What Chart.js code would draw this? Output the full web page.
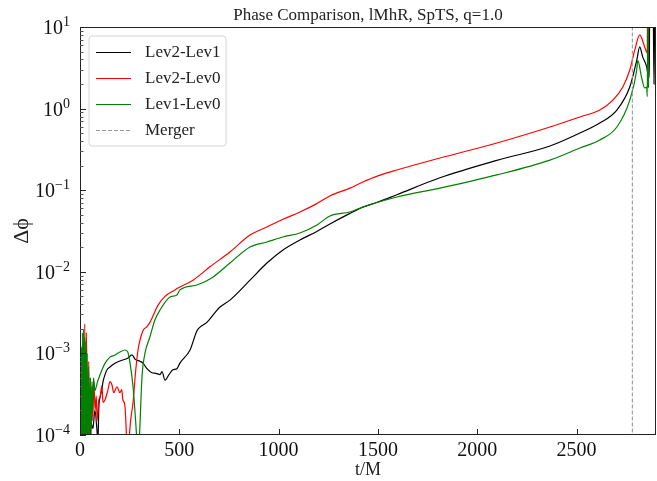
<!DOCTYPE html>
<html>
<head>
<meta charset="utf-8">
<script src="https://cdn.jsdelivr.net/npm/chart.js@4.4.0/dist/chart.umd.min.js"></script>
<style>
  html, body { margin: 0; padding: 0; background: #fff; }
</style>
</head>
<body>
<canvas id="phaseChart" width="657" height="481"></canvas>
<script>
// Lev2-Lev1 (black)
const tBlack = [0, 4, 8, 12, 16, 20, 26, 32, 40, 48, 56, 65, 75, 86, 90, 95, 101, 110, 116, 126, 136, 151, 166, 186, 216, 242, 262, 277, 302, 317, 337, 362, 382, 403, 413, 428, 448, 468, 488, 503, 554, 589, 604, 639, 690, 705, 755, 856, 941, 1022, 1107, 1190, 1258, 1359, 1424, 1500, 1595, 1812, 2099, 2366, 2517, 2617, 2703, 2768, 2803, 2818, 2833, 2853, 2860, 2866, 2868, 2886, 2890, 2893];
const dBlack = [1.2e-3, 5e-5, 6e-4, 5e-5, 3e-4, 5e-5, 2e-4, 5e-5, 1.5e-4, 6e-5, 1.4e-4, 1.2e-4, 2e-4, 1.1e-4, 8e-5, 2.2e-4, 2.9e-4, 3.6e-4, 4.5e-4, 5.5e-4, 6.3e-4, 6.8e-4, 7.3e-4, 7.8e-4, 8.3e-4, 8.8e-4, 9.6e-4, 8.5e-4, 8e-4, 7.6e-4, 6.5e-4, 5.8e-4, 5.7e-4, 5.5e-4, 6e-4, 4.7e-4, 5.5e-4, 6.3e-4, 6.5e-4, 7.6e-4, 1.1e-3, 1.9e-3, 2.1e-3, 2.4e-3, 3.4e-3, 3.7e-3, 4.5e-3, 7.9e-3, 0.0128, 0.0185, 0.0245, 0.031, 0.0385, 0.052, 0.062, 0.0716, 0.088, 0.142, 0.232, 0.348, 0.502, 0.667, 0.96, 1.84, 3.9, 5.7, 4.3, 3.24, 2.6, 2.4, 15, 15, 2.0, 15];

// Lev2-Lev0 (red)
const tRed = [0, 4, 8, 12, 16, 20, 24, 28, 32, 36, 40, 44, 48, 52, 56, 60, 64, 70, 76, 82, 86, 95, 101, 110, 116, 126, 140, 151, 161, 170, 186, 201, 210, 216, 226, 233, 237, 244, 250, 267, 280, 292, 317, 335, 352, 393, 428, 478, 503, 569, 654, 755, 856, 941, 1022, 1107, 1190, 1258, 1359, 1424, 1500, 1595, 1812, 2099, 2366, 2517, 2617, 2683, 2733, 2768, 2793, 2818, 2843, 2853, 2856, 2858, 2861, 2864];
const dRed = [1.9e-3, 6e-5, 1e-3, 5e-5, 1.5e-3, 8e-5, 2.3e-3, 6e-5, 1.8e-3, 4e-4, 5e-5, 8e-4, 6e-5, 5e-4, 1.2e-4, 3.9e-4, 1.5e-4, 4.5e-4, 2e-4, 3e-4, 1.5e-4, 2.7e-4, 2.9e-4, 4e-4, 2.5e-4, 2.7e-4, 3.5e-4, 4.5e-4, 4.1e-4, 3.3e-4, 3.9e-4, 3.3e-4, 3.6e-4, 2.7e-4, 2.3e-4, 1.1e-4, 6e-5, 5e-5, 1.1e-4, 2.5e-4, 6e-4, 1.1e-3, 1.9e-3, 2.1e-3, 2.4e-3, 3.9e-3, 5e-3, 6e-3, 6.5e-3, 7.9e-3, 0.0115, 0.0175, 0.0282, 0.0354, 0.044, 0.054, 0.068, 0.085, 0.106, 0.126, 0.15, 0.177, 0.248, 0.379, 0.595, 0.79, 0.96, 1.27, 1.84, 2.97, 5.2, 8.0, 5.7, 4.9, 4.8, 30, 3.5, 30];

// Lev1-Lev0 (green)
const tGreen = [0, 3, 6, 9, 12, 15, 18, 21, 24, 27, 30, 33, 36, 40, 44, 48, 52, 56, 60, 64, 68, 75, 86, 95, 111, 125, 151, 175, 201, 226, 240, 252, 267, 280, 287, 292, 298, 312, 327, 352, 377, 403, 453, 488, 503, 589, 669, 755, 856, 941, 1022, 1107, 1193, 1258, 1359, 1424, 1595, 1812, 2099, 2366, 2517, 2617, 2703, 2768, 2803, 2808, 2828, 2843, 2853, 2856, 2859, 2862];
const dGreen = [1.5e-3, 5e-5, 1.2e-3, 5e-5, 1.8e-3, 6e-5, 2e-3, 5e-5, 1.6e-3, 7e-5, 1.4e-3, 6e-5, 1e-3, 8e-5, 7e-4, 7e-5, 5e-4, 1e-4, 4.5e-4, 2e-4, 5e-4, 3.5e-4, 4.3e-4, 5e-4, 6.3e-4, 7.5e-4, 9e-4, 9.5e-4, 1.04e-3, 1.1e-3, 1.05e-3, 7.6e-4, 3.9e-4, 1.5e-4, 8e-5, 5e-5, 8e-5, 5.1e-4, 1e-3, 1.59e-3, 2.57e-3, 3.4e-3, 4.9e-3, 5.2e-3, 6e-3, 6.9e-3, 8.6e-3, 0.0128, 0.0201, 0.0232, 0.0267, 0.0299, 0.0375, 0.0483, 0.054, 0.0622, 0.0826, 0.106, 0.154, 0.234, 0.329, 0.412, 0.595, 1.27, 2.97, 3.9, 2.37, 1.79, 1.84, 1.4, 20, 1.8];

const mergerT = 2781;
const xTickValues = [0, 500, 1000, 1500, 2000, 2500];
const yDecades = [-4, -3, -2, -1, 0, 1];
const seriesLabels = ['Lev2-Lev1', 'Lev2-Lev0', 'Lev1-Lev0', 'Merger'];

const SERIF = '"Liberation Serif", "DejaVu Serif", serif';

const zip = (ts, vs) => ts.map((t, i) => ({ x: t, y: vs[i] }));

const lineDefaults = { pointRadius: 0, borderWidth: 1.2, cubicInterpolationMode: 'monotone', fill: false };

const datasets = [
    { ...lineDefaults, label: seriesLabels[0], data: zip(tBlack, dBlack), borderColor: '#000000', order: 3 },
    { ...lineDefaults, label: seriesLabels[1], data: zip(tRed, dRed), borderColor: '#ff0000', order: 2 },
    { ...lineDefaults, label: seriesLabels[2], data: zip(tGreen, dGreen), borderColor: '#008000', order: 1 },
    { ...lineDefaults, label: seriesLabels[3], data: [{ x: mergerT, y: 1e-5 }, { x: mergerT, y: 100 }],
      cubicInterpolationMode: 'default', borderColor: '#999999', borderDash: [4, 2], borderWidth: 1.1, order: 0 }
];

// frame, inward ticks and math style y labels
const axesDecor = {
    id: 'axesDecor',
    afterDraw(chart) {
        const { ctx, chartArea: a, scales: { x, y } } = chart;
        ctx.save();
        ctx.strokeStyle = '#222';
        ctx.lineWidth = 1;
        ctx.strokeRect(a.left + 0.5, a.top + 0.5, a.right - a.left - 1, a.bottom - a.top - 1);

        ctx.beginPath();
        xTickValues.forEach(v => {
            const px = Math.round(x.getPixelForValue(v)) + 0.5;
            ctx.moveTo(px, a.bottom);
            ctx.lineTo(px, a.bottom - 6);
        });
        yDecades.forEach(e => {
            const py = Math.round(y.getPixelForValue(Math.pow(10, e))) + 0.5;
            ctx.moveTo(a.left, py);
            ctx.lineTo(a.left + 6, py);
        });
        ctx.stroke();

        ctx.beginPath();
        ctx.strokeStyle = '#555';
        yDecades.slice(0, -1).forEach(e => {
            for (let m = 2; m <= 9; m++) {
                const py = Math.round(y.getPixelForValue(m * Math.pow(10, e))) + 0.5;
                ctx.moveTo(a.left, py);
                ctx.lineTo(a.left + 3.5, py);
            }
        });
        ctx.stroke();

        // y tick labels: 10 with raised exponent
        ctx.fillStyle = '#111';
        ctx.textBaseline = 'alphabetic';
        ctx.textAlign = 'left';
        const right = a.left - 10;
        yDecades.forEach(e => {
            const py = y.getPixelForValue(Math.pow(10, e));
            const expText = e < 0 ? '\u2212' + Math.abs(e) : String(e);
            ctx.font = '14px ' + SERIF;
            const ew = ctx.measureText(expText).width;
            ctx.font = '20px ' + SERIF;
            const bw = ctx.measureText('10').width;
            ctx.fillText('10', right - ew - bw, py + 7);
            ctx.font = '14px ' + SERIF;
            ctx.fillText(expText, right - ew, py - 1);
        });
        ctx.restore();
    }
};

// legend box in the upper left of the plot
const insideLegend = {
    id: 'insideLegend',
    afterDraw(chart) {
        const { ctx, chartArea: a } = chart;
        const bx = a.left + 9, by = a.top + 9, bw = 137, bh = 110, r = 3;
        ctx.save();
        ctx.beginPath();
        ctx.moveTo(bx + r, by);
        ctx.arcTo(bx + bw, by, bx + bw, by + bh, r);
        ctx.arcTo(bx + bw, by + bh, bx, by + bh, r);
        ctx.arcTo(bx, by + bh, bx, by, r);
        ctx.arcTo(bx, by, bx + bw, by, r);
        ctx.closePath();
        ctx.fillStyle = 'rgba(255,255,255,0.8)';
        ctx.fill();
        ctx.strokeStyle = '#d6d6d6';
        ctx.lineWidth = 1;
        ctx.stroke();

        ctx.font = '17px ' + SERIF;
        ctx.textBaseline = 'middle';
        chart.data.datasets.forEach((ds, i) => {
            const cy = Math.round(by + 16 + i * 26) + 0.5;
            ctx.beginPath();
            ctx.setLineDash(ds.borderDash || []);
            ctx.strokeStyle = ds.borderColor;
            ctx.lineWidth = 1.2;
            ctx.moveTo(a.left + 16, cy);
            ctx.lineTo(a.left + 51, cy);
            ctx.stroke();
            ctx.setLineDash([]);
            ctx.fillStyle = '#222';
            ctx.fillText(ds.label, a.left + 65, cy);
        });
        ctx.restore();
    }
};

new Chart(document.getElementById('phaseChart').getContext('2d'), {
    type: 'line',
    data: { datasets: datasets },
    plugins: [axesDecor, insideLegend],
    options: {
        responsive: false,
        animation: false,
        layout: { padding: { left: 0, right: 1, top: 0, bottom: 0 } },
        plugins: {
            legend: { display: false },
            tooltip: { enabled: false },
            title: {
                display: true,
                fullSize: false,
                text: 'Phase Comparison, lMhR, SpTS, q=1.0',
                color: '#222',
                font: { family: SERIF, size: 17, weight: 'normal', lineHeight: 1 },
                padding: { top: 7, bottom: 3 }
            }
        },
        scales: {
            x: {
                type: 'linear',
                min: 0,
                max: 2900,
                grid: { display: false, drawTicks: false },
                border: { display: false },
                afterBuildTicks: (scale) => { scale.ticks = xTickValues.map(v => ({ value: v })); },
                afterFit: (scale) => { scale.height = 46; },
                ticks: {
                    color: '#111',
                    padding: 4,
                    maxRotation: 0,
                    font: { family: SERIF, size: 20 },
                    callback: (v) => String(v)
                },
                title: {
                    display: true,
                    text: 't/M',
                    color: '#222',
                    font: { family: SERIF, size: 18 },
                    padding: { top: 0, bottom: 0 }
                }
            },
            y: {
                type: 'logarithmic',
                min: 1e-4,
                max: 10,
                grid: { display: false, drawTicks: false },
                border: { display: false },
                afterFit: (scale) => { scale.width = 80; },
                ticks: { display: false },
                title: {
                    display: true,
                    text: '\u0394\u03d5',
                    color: '#222',
                    font: { family: SERIF, size: 22 },
                    padding: { top: 9, bottom: 0 }
                }
            }
        }
    }
});
</script>
</body>
</html>
